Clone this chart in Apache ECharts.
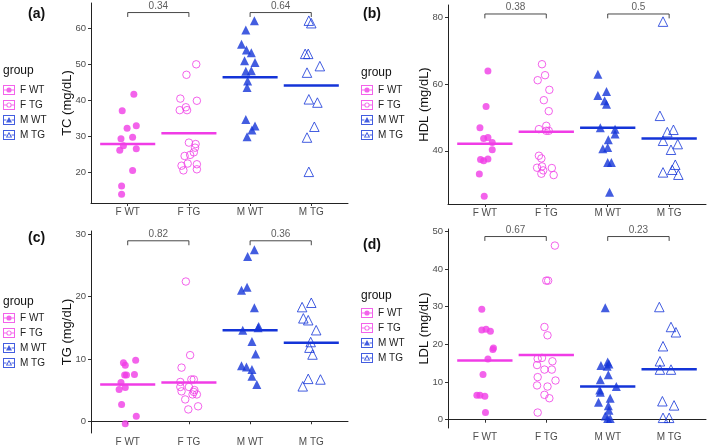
<!DOCTYPE html>
<html>
<head>
    <meta charset="UTF-8">
    <title>Lipids by group</title>
    <script src="https://cdn.jsdelivr.net/npm/echarts@6.0.0/dist/echarts.min.js"></script>
</head>
<style>
    html, body { margin: 0; padding: 0; background: #fff; }
    #main { width: 709px; height: 448px; }
</style>
<body>
<div id="main"></div>
<script>
// categories and p-values
const cats = ['F WT', 'F TG', 'M WT', 'M TG'];

// each point: [value, horizontal jitter]
const tcFWT = [[41.7,.10],[37.1,-.09],[32.3,-.01],[33.0,.14],[29.4,-.11],[29.8,.08],[27.4,-.07],[26.2,-.13],[26.6,.14],[20.6,.08],[16.3,-.10],[14.0,-.10]];
const tcFTG = [[50.0,.12],[47.1,-.04],[40.5,-.14],[39.9,.13],[38.1,-.05],[37.3,-.03],[37.3,-.15],[28.3,0],[27.9,.11],[26.9,.10],[25.6,.08],[24.9,.02],[24.6,-.07],[22.5,-.02],[21.9,-.12],[22.3,.13],[20.6,-.09],[20.9,.13]];
const tcMWT = [[62.1,.07],[59.5,-.07],[55.6,-.14],[54.0,-.06],[53.2,.02],[51.0,-.09],[50.5,.08],[48.2,.02],[48.1,-.07],[45.4,-.04],[43.6,-.05],[34.7,-.07],[32.9,.08],[31.8,.03],[29.9,-.05]];
const tcMTG = [[62.1,-.04],[61.4,0],[52.9,-.10],[52.9,-.05],[49.5,.14],[47.7,-.07],[40.3,-.04],[39.4,.10],[32.7,.05],[29.7,-.07],[20.2,-.04]];
const tcMeans = [27.9, 30.9, 46.4, 44.1];
const tcP = ['0.34', '0.64'];
const tcBracket = 64.35;

const hdlFWT = [[64.0,.05],[53.3,.02],[46.9,-.08],[43.7,-.02],[44.0,.05],[42.5,.12],[40.3,.12],[37.4,-.07],[37.0,-.02],[37.5,.05],[33.0,-.09],[26.3,-.01]];
const hdlFTG = [[66.0,-.07],[62.7,-.02],[61.2,-.14],[58.3,.05],[55.2,-.04],[51.9,.04],[47.5,0],[46.5,-.12],[46.0,0],[46.0,.04],[38.5,-.12],[37.7,-.08],[34.9,-.15],[35.3,-.07],[34.8,.09],[34.1,-.05],[33.1,-.08],[32.7,.12]];
const hdlMWT = [[63.0,-.16],[57.8,-.02],[56.6,-.16],[55.0,-.05],[54.0,-.02],[46.9,-.12],[46.5,.12],[45.0,.12],[43.3,.01],[40.6,-.08],[41.0,0],[36.5,0],[36.5,.06],[27.5,.03]];
const hdlMTG = [[78.8,-.10],[50.5,-.15],[46.3,.07],[45.6,-.03],[43.0,-.10],[42.0,.14],[40.3,.03],[35.8,.10],[34.3,.05],[33.5,-.10],[32.8,.15]];
const hdlMeans = [42.1, 45.7, 46.9, 43.7];
const hdlP = ['0.38', '0.5'];
const hdlBracket = 81.1;

const tgFWT = [[9.4,-.07],[9.0,-.04],[9.8,.13],[7.4,-.05],[7.4,-.02],[7.5,.11],[6.2,-.11],[5.4,-.04],[5.1,-.14],[2.7,-.10],[0.8,.14],[-0.4,-.04]];
const tgFTG = [[22.4,-.05],[10.6,.02],[8.6,-.12],[6.3,-.14],[6.7,.04],[6.7,.08],[5.5,-.14],[5.5,0],[5.0,.09],[4.8,-.12],[4.7,.08],[4.3,.06],[4.3,.13],[3.5,-.06],[2.4,.15],[1.9,-.01]];
const tgMWT = [[27.5,.07],[26.4,-.04],[21.5,-.05],[21.0,-.14],[18.2,.07],[15.2,.14],[15.0,.13],[14.6,-.12],[12.8,.03],[10.8,.09],[8.9,-.14],[8.7,-.06],[8.3,.03],[7.2,.03],[5.9,.11]];
const tgMTG = [[19.0,0],[18.3,-.15],[16.5,-.13],[16.2,-.05],[14.6,.08],[12.7,-.01],[11.8,-.03],[10.7,.02],[6.8,-.05],[6.7,.15],[5.6,-.14]];
const tgMeans = [5.9, 6.2, 14.6, 12.6];
const tgP = ['0.82', '0.36'];
const tgBracket = 28.93;

const ldlFWT = [[29.3,-.05],[23.8,-.05],[24.0,.02],[23.5,.09],[19.0,.14],[18.6,.13],[16.1,.05],[12.0,-.03],[6.5,-.13],[6.5,-.08],[6.2,0],[1.9,.01]];
const ldlFTG = [[46.2,.14],[36.9,0],[36.9,.03],[24.6,-.03],[22.4,.02],[16.2,-.14],[16.4,-.07],[15.5,.10],[14.5,-.15],[13.3,-.03],[13.3,.09],[11.3,-.14],[10.4,.15],[9.1,-.15],[8.8,.02],[6.6,-.03],[5.7,.05],[1.9,-.14]];
const ldlMWT = [[29.7,-.04],[15.3,0],[14.8,.02],[14.4,-.11],[14.2,-.01],[11.9,.01],[10.6,-.12],[8.8,.14],[7.9,-.13],[7.3,-.12],[5.7,.04],[4.6,-.15],[3.7,.01],[2.5,.02],[1.0,-.04],[0.3,0],[0.3,.04]];
const ldlMTG = [[29.9,-.16],[24.6,.03],[23.2,.11],[19.5,-.10],[15.5,-.15],[13.3,-.15],[13.3,.03],[4.9,-.11],[3.8,.08],[0.5,-.10],[0.5,0]];
const ldlMeans = [15.7, 17.2, 8.8, 13.4];
const ldlP = ['0.67', '0.23'];
const ldlBracket = 48.6;

// y tick labels per panel
const tcTicks = [20, 30, 40, 50, 60];
const hdlTicks = [40, 60, 80];
const tgTicks = [0, 10, 20, 30];
const ldlTicks = [0, 10, 20, 30, 40, 50];

const MAG = '#F03CE6';
const BLUE = '#1434D8';
const FONT = '"Liberation Sans", Arial, sans-serif';

const styles = [
    { color: MAG, symbol: 'circle', size: 7, hollow: false },
    { color: MAG, symbol: 'circle', size: 7.5, hollow: true },
    { color: BLUE, symbol: 'triangle', size: 9, hollow: false },
    { color: BLUE, symbol: 'triangle', size: 9.5, hollow: true }
];

// legend glyphs (box + middle line + point)
const boxPath = 'M0 0H12V10H0Z M1 1V9H11V1Z M1 4.5H3.4V5.5H1Z M8.6 4.5H11V5.5H8.6Z ';
const icons = [
    'path://' + boxPath + 'M3.4 5A2.6 2.6 0 1 1 8.6 5A2.6 2.6 0 1 1 3.4 5Z',
    'path://' + boxPath + 'M3.4 5A2.6 2.6 0 1 1 8.6 5A2.6 2.6 0 1 1 3.4 5Z M4.3 5A1.7 1.7 0 1 0 7.7 5A1.7 1.7 0 1 0 4.3 5Z',
    'path://' + boxPath + 'M6 2L9 7.4H3Z',
    'path://' + boxPath + 'M6 1.8L9.2 7.6H2.8Z M6 3.7L4.4 6.7H7.6Z'
];

const panels = [
    { tag: '(a)', name: 'TC (mg/dL)', groups: [tcFWT, tcFTG, tcMWT, tcMTG], means: tcMeans, p: tcP, bracket: tcBracket,
      ticks: tcTicks, min: 11.56, max: 67.0, grid: { left: 91, top: 3, width: 257, height: 200 }, nameGap: 17.5,
      legend: { left: 3, top: 85 }, groupTop: 65, tagPos: { left: 28, top: 7 } },
    { tag: '(b)', name: 'HDL (mg/dL)', groups: [hdlFWT, hdlFTG, hdlMWT, hdlMTG], means: hdlMeans, p: hdlP, bracket: hdlBracket,
      ticks: hdlTicks, min: 24.0, max: 83.8, grid: { left: 448, top: 5, width: 258, height: 199 }, nameGap: 17.5,
      legend: { left: 361, top: 85 }, groupTop: 67, tagPos: { left: 363, top: 7 } },
    { tag: '(c)', name: 'TG (mg/dL)', groups: [tgFWT, tgFTG, tgMWT, tgMTG], means: tgMeans, p: tgP, bracket: tgBracket,
      ticks: tgTicks, min: -1.88, max: 30.5, grid: { left: 91, top: 231, width: 257, height: 202 }, nameGap: 17.5,
      legend: { left: 3, top: 313 }, groupTop: 296, tagPos: { left: 28, top: 231 } },
    { tag: '(d)', name: 'LDL (mg/dL)', groups: [ldlFWT, ldlFTG, ldlMWT, ldlMTG], means: ldlMeans, p: ldlP, bracket: ldlBracket,
      ticks: ldlTicks, min: -2.2, max: 50.6, grid: { left: 448, top: 229, width: 258, height: 199 }, nameGap: 17.5,
      legend: { left: 361, top: 308 }, groupTop: 290, tagPos: { left: 363, top: 238 } }
];

const grids = [], xAxes = [], yAxes = [], series = [], legends = [], titles = [];

panels.forEach((pn, i) => {
    grids.push(pn.grid);
    xAxes.push({
        type: 'value', gridIndex: i, min: 0.4, max: 4.6,
        splitLine: { show: false },
        axisLine: { lineStyle: { color: '#222', width: 1 } },
        axisTick: { show: true, length: 3, customValues: [1, 2, 3, 4], lineStyle: { color: '#333' } },
        axisLabel: { customValues: [1, 2, 3, 4], margin: 4, color: '#4D4D4D', fontSize: 10, fontFamily: FONT,
            formatter: v => cats[Math.round(v) - 1] }
    });
    yAxes.push({
        type: 'value', gridIndex: i, min: pn.min, max: pn.max,
        name: pn.name, nameLocation: 'middle', nameGap: pn.nameGap, nameMoveOverlap: false,
        nameTextStyle: { color: '#111', fontSize: 13, fontFamily: FONT },
        splitLine: { show: false },
        axisLine: { show: true, lineStyle: { color: '#222', width: 1 } },
        axisTick: { show: true, length: 3, customValues: pn.ticks, lineStyle: { color: '#333' } },
        axisLabel: { customValues: pn.ticks, margin: 5, color: '#4D4D4D', fontSize: 9.5, fontFamily: FONT }
    });

    // jittered points
    pn.groups.forEach((pts, g) => {
        const st = styles[g];
        series.push({
            type: 'scatter', name: cats[g], xAxisIndex: i, yAxisIndex: i,
            symbol: st.symbol, symbolSize: st.size,
            itemStyle: st.hollow
                ? { color: 'rgba(0,0,0,0)', borderColor: st.color, borderWidth: 1 }
                : { color: st.color, borderWidth: 0 },
            data: pts.map(p => [g + 1 + p[1], p[0]]),
            z: 2
        });
    });

    // group mean bars
    pn.means.forEach((m, g) => {
        series.push({
            type: 'line', xAxisIndex: i, yAxisIndex: i, silent: true,
            symbol: 'none', lineStyle: { color: styles[g].color, width: 2.5 },
            data: [[g + 1 - 0.45, m], [g + 1 + 0.45, m]], z: 3
        });
    });

    // comparison brackets + p labels
    const drop = (pn.max - pn.min) * 0.022;
    [0, 1].forEach(k => {
        const a = 1 + 2 * k, b = a + 1;
        series.push({
            type: 'line', xAxisIndex: i, yAxisIndex: i, silent: true, symbol: 'none',
            lineStyle: { color: '#333', width: 0.9 },
            data: [[a, pn.bracket - drop], [a, pn.bracket], [b, pn.bracket], [b, pn.bracket - drop]]
        });
        series.push({
            type: 'scatter', xAxisIndex: i, yAxisIndex: i, silent: true,
            symbolSize: 1, itemStyle: { color: 'rgba(0,0,0,0)' },
            label: { show: true, position: 'top', distance: 1, color: '#333', fontSize: 10, fontFamily: FONT,
                formatter: pn.p[k] },
            data: [[(a + b) / 2, pn.bracket]]
        });
    });

    legends.push({
        left: pn.legend.left, top: pn.legend.top, orient: 'vertical', padding: 0,
        itemWidth: 12, itemHeight: 10, itemGap: 5, selectedMode: false,
        textStyle: { color: '#222', fontSize: 10, fontFamily: FONT, lineHeight: 10 },
        data: cats.map((c, g) => ({ name: c, icon: icons[g],
            itemStyle: { color: styles[g].color, borderWidth: 0 } }))
    });

    titles.push({ text: pn.tag, left: pn.tagPos.left, top: pn.tagPos.top, padding: 0,
        textStyle: { fontSize: 14, fontWeight: 'bold', color: '#111', fontFamily: FONT } });
    titles.push({ text: 'group', left: pn.legend.left, top: pn.groupTop, padding: 0,
        textStyle: { fontSize: 12, fontWeight: 'normal', color: '#111', fontFamily: FONT } });
});

const chart = echarts.init(document.getElementById('main'));
chart.setOption({
    animation: false,
    backgroundColor: '#fff',
    title: titles,
    legend: legends,
    grid: grids,
    xAxis: xAxes,
    yAxis: yAxes,
    series: series
});
</script>
</body>
</html>
